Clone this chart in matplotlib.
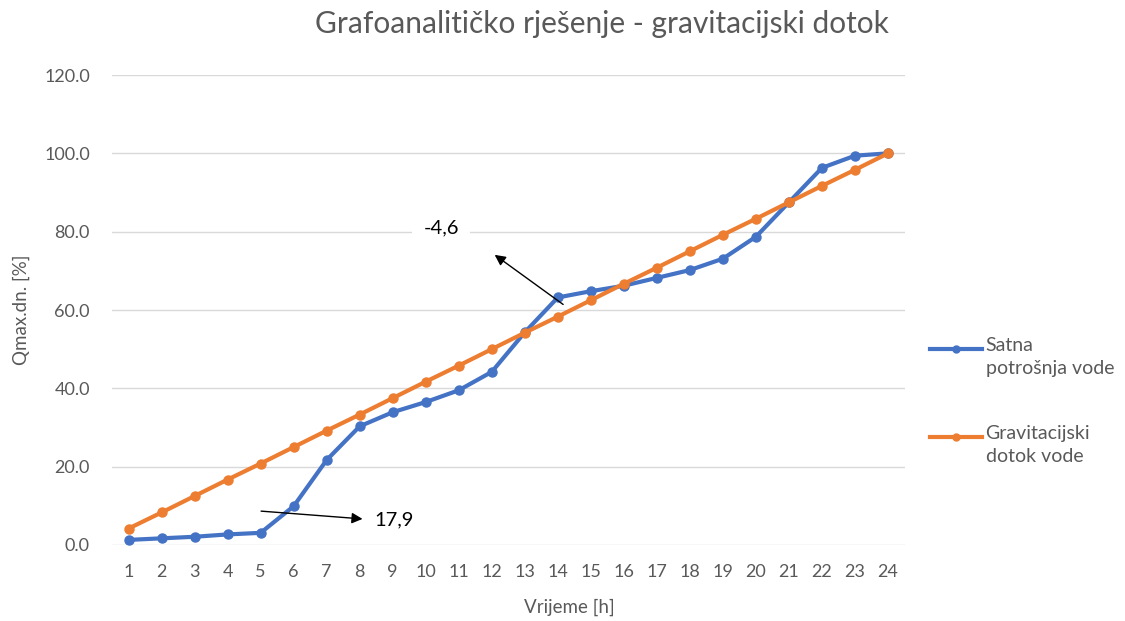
import numpy as np
import matplotlib.pyplot as plt
from matplotlib.lines import Line2D

plt.rcParams['font.family'] = ['Lato', 'DejaVu Sans']

sati = np.arange(1, 25)
satna_potrosnja = [1.3, 1.7, 2.1, 2.7, 3.1, 9.9, 21.7, 30.3, 33.9, 36.5, 39.5, 44.2,
                   54.3, 63.2, 64.8, 66.2, 68.2, 70.2, 73.1, 78.7, 87.5, 96.3, 99.4, 100.0]
gravitacijski_dotok = [4.2, 8.3, 12.5, 16.7, 20.8, 25.0, 29.2, 33.3, 37.5, 41.7, 45.8, 50.0,
                       54.2, 58.3, 62.5, 66.7, 70.8, 75.0, 79.2, 83.3, 87.5, 91.7, 95.8, 100.0]
yticks = [0, 20, 40, 60, 80, 100, 120]

plava = '#4472C4'
narancasta = '#ED7D31'
siva = '#595959'

fig = plt.figure(figsize=(11.25, 6.21), dpi=100)
ax = fig.add_axes([0.0996, 0.1224, 0.7044, 0.7568])

ax.plot(sati, satna_potrosnja, color=plava, lw=3, marker='o', ms=6.5, zorder=3)
ax.plot(sati, gravitacijski_dotok, color=narancasta, lw=3, marker='o', ms=6.5, zorder=3)

ax.set_xlim(0.5, 24.5)
ax.set_ylim(0, 120)
ax.set_xticks(sati)
ax.set_yticks(yticks)
ax.set_yticklabels([f'{v:.1f}' for v in yticks])
ax.tick_params(length=0, colors=siva, labelsize=13)
ax.tick_params(axis='y', pad=16)
ax.tick_params(axis='x', pad=14)
ax.grid(axis='y', color='#D9D9D9', lw=1)
ax.set_axisbelow(True)
for s in ax.spines.values():
    s.set_visible(False)

ax.set_xlabel('Vrijeme [h]', color=siva, fontsize=13.5)
ax.xaxis.set_label_coords((570 - 112) / 793, -0.115)
ax.set_ylabel('Qmax.dn. [%]', color=siva, fontsize=13.5)
ax.yaxis.set_label_coords(-0.103, 0.5)
fig.text(0.535, 0.962, 'Grafoanalitičko rješenje - gravitacijski dotok',
         ha='center', va='center', color=siva, fontsize=21.5)

# strelice s razlikama
ax.annotate('', xy=(8.17, 6.6), xytext=(4.93, 8.7),
            arrowprops=dict(arrowstyle='-|>', color='black', lw=1, mutation_scale=16), zorder=4)
ax.text(8.45, 6.3, '17,9', ha='left', va='center', fontsize=14.5, color='black', zorder=5)
ax.annotate('', xy=(12.02, 74.5), xytext=(14.23, 61.0),
            arrowprops=dict(arrowstyle='-|>', color='black', lw=1, mutation_scale=16), zorder=4)
ax.text(10.47, 80.9, '-4,6', ha='center', va='center', fontsize=14.5, color='black', zorder=5,
        bbox=dict(facecolor='white', edgecolor='none', pad=8))

# legenda
for y, boja, tekst in [(0.438, plava, 'Satna\npotrošnja vode'),
                       (0.296, narancasta, 'Gravitacijski\ndotok vode')]:
    fig.add_artist(Line2D([0.827, 0.873], [y, y], color=boja, lw=3, transform=fig.transFigure))
    fig.add_artist(Line2D([0.85], [y], color=boja, marker='o', ms=5, transform=fig.transFigure))
    fig.text(0.876, y + 0.02, tekst, ha='left', va='top', color=siva, fontsize=14, linespacing=1.45)

fig.savefig('out.png', dpi=100)
